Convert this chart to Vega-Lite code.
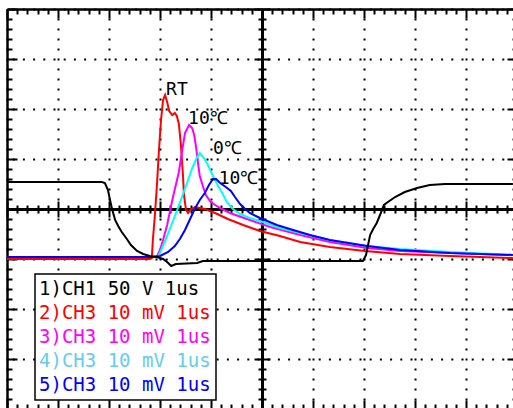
{
  "$schema": "https://vega.github.io/schema/vega-lite/v6.json",
  "width": 506,
  "height": 399,
  "autosize": {"type": "none"},
  "padding": {"left": 7, "top": 9, "right": 0, "bottom": 0},
  "background": "white",
  "config": {"view": {"stroke": null}},
  "datasets": {
    "traces": [
      {"s": "2)CH3 10 mV 1us", "t": -5, "v": -1.0},
      {"s": "2)CH3 10 mV 1us", "t": -2.2, "v": -1.0},
      {"s": "2)CH3 10 mV 1us", "t": -2.16, "v": -0.98},
      {"s": "2)CH3 10 mV 1us", "t": -2.14, "v": -0.62},
      {"s": "2)CH3 10 mV 1us", "t": -2.1, "v": -0.12},
      {"s": "2)CH3 10 mV 1us", "t": -2.06, "v": 0.48},
      {"s": "2)CH3 10 mV 1us", "t": -2.02, "v": 1.18},
      {"s": "2)CH3 10 mV 1us", "t": -1.98, "v": 1.78},
      {"s": "2)CH3 10 mV 1us", "t": -1.94, "v": 2.18},
      {"s": "2)CH3 10 mV 1us", "t": -1.9, "v": 2.28},
      {"s": "2)CH3 10 mV 1us", "t": -1.86, "v": 2.14},
      {"s": "2)CH3 10 mV 1us", "t": -1.82, "v": 1.96},
      {"s": "2)CH3 10 mV 1us", "t": -1.76, "v": 1.88},
      {"s": "2)CH3 10 mV 1us", "t": -1.71, "v": 1.92},
      {"s": "2)CH3 10 mV 1us", "t": -1.67, "v": 1.86},
      {"s": "2)CH3 10 mV 1us", "t": -1.63, "v": 1.7},
      {"s": "2)CH3 10 mV 1us", "t": -1.59, "v": 1.28},
      {"s": "2)CH3 10 mV 1us", "t": -1.55, "v": 0.68},
      {"s": "2)CH3 10 mV 1us", "t": -1.53, "v": 0.28},
      {"s": "2)CH3 10 mV 1us", "t": -1.49, "v": -0.02},
      {"s": "2)CH3 10 mV 1us", "t": -1.45, "v": -0.08},
      {"s": "2)CH3 10 mV 1us", "t": -1.39, "v": 0.0},
      {"s": "2)CH3 10 mV 1us", "t": -1.31, "v": 0.04},
      {"s": "2)CH3 10 mV 1us", "t": -1.12, "v": 0.0},
      {"s": "2)CH3 10 mV 1us", "t": -0.92, "v": -0.08},
      {"s": "2)CH3 10 mV 1us", "t": -0.67, "v": -0.2},
      {"s": "2)CH3 10 mV 1us", "t": -0.37, "v": -0.32},
      {"s": "2)CH3 10 mV 1us", "t": -0.04, "v": -0.44},
      {"s": "2)CH3 10 mV 1us", "t": 0.35, "v": -0.54},
      {"s": "2)CH3 10 mV 1us", "t": 0.75, "v": -0.66},
      {"s": "2)CH3 10 mV 1us", "t": 1.33, "v": -0.76},
      {"s": "2)CH3 10 mV 1us", "t": 2.02, "v": -0.84},
      {"s": "2)CH3 10 mV 1us", "t": 2.71, "v": -0.9},
      {"s": "2)CH3 10 mV 1us", "t": 3.69, "v": -0.94},
      {"s": "2)CH3 10 mV 1us", "t": 4.92, "v": -0.98},

      {"s": "3)CH3 10 mV 1us", "t": -5, "v": -0.96},
      {"s": "3)CH3 10 mV 1us", "t": -2.1, "v": -0.96},
      {"s": "3)CH3 10 mV 1us", "t": -2.06, "v": -0.95},
      {"s": "3)CH3 10 mV 1us", "t": -2.0, "v": -0.82},
      {"s": "3)CH3 10 mV 1us", "t": -1.94, "v": -0.62},
      {"s": "3)CH3 10 mV 1us", "t": -1.86, "v": -0.32},
      {"s": "3)CH3 10 mV 1us", "t": -1.8, "v": -0.02},
      {"s": "3)CH3 10 mV 1us", "t": -1.75, "v": 0.22},
      {"s": "3)CH3 10 mV 1us", "t": -1.69, "v": 0.48},
      {"s": "3)CH3 10 mV 1us", "t": -1.63, "v": 0.74},
      {"s": "3)CH3 10 mV 1us", "t": -1.57, "v": 1.14},
      {"s": "3)CH3 10 mV 1us", "t": -1.51, "v": 1.52},
      {"s": "3)CH3 10 mV 1us", "t": -1.43, "v": 1.68},
      {"s": "3)CH3 10 mV 1us", "t": -1.37, "v": 1.62},
      {"s": "3)CH3 10 mV 1us", "t": -1.33, "v": 1.48},
      {"s": "3)CH3 10 mV 1us", "t": -1.29, "v": 1.22},
      {"s": "3)CH3 10 mV 1us", "t": -1.25, "v": 0.88},
      {"s": "3)CH3 10 mV 1us", "t": -1.22, "v": 0.66},
      {"s": "3)CH3 10 mV 1us", "t": -1.16, "v": 0.46},
      {"s": "3)CH3 10 mV 1us", "t": -1.1, "v": 0.28},
      {"s": "3)CH3 10 mV 1us", "t": -1.02, "v": 0.16},
      {"s": "3)CH3 10 mV 1us", "t": -0.92, "v": 0.08},
      {"s": "3)CH3 10 mV 1us", "t": -0.78, "v": 0.0},
      {"s": "3)CH3 10 mV 1us", "t": -0.63, "v": -0.08},
      {"s": "3)CH3 10 mV 1us", "t": -0.24, "v": -0.22},
      {"s": "3)CH3 10 mV 1us", "t": 0.16, "v": -0.36},
      {"s": "3)CH3 10 mV 1us", "t": 0.75, "v": -0.52},
      {"s": "3)CH3 10 mV 1us", "t": 1.33, "v": -0.66},
      {"s": "3)CH3 10 mV 1us", "t": 2.06, "v": -0.78},
      {"s": "3)CH3 10 mV 1us", "t": 2.71, "v": -0.84},
      {"s": "3)CH3 10 mV 1us", "t": 3.69, "v": -0.88},
      {"s": "3)CH3 10 mV 1us", "t": 4.92, "v": -0.92},

      {"s": "4)CH3 10 mV 1us", "t": -5, "v": -0.96},
      {"s": "4)CH3 10 mV 1us", "t": -2.06, "v": -0.96},
      {"s": "4)CH3 10 mV 1us", "t": -2.02, "v": -0.92},
      {"s": "4)CH3 10 mV 1us", "t": -1.9, "v": -0.64},
      {"s": "4)CH3 10 mV 1us", "t": -1.8, "v": -0.38},
      {"s": "4)CH3 10 mV 1us", "t": -1.67, "v": -0.04},
      {"s": "4)CH3 10 mV 1us", "t": -1.57, "v": 0.24},
      {"s": "4)CH3 10 mV 1us", "t": -1.47, "v": 0.52},
      {"s": "4)CH3 10 mV 1us", "t": -1.41, "v": 0.7},
      {"s": "4)CH3 10 mV 1us", "t": -1.35, "v": 0.86},
      {"s": "4)CH3 10 mV 1us", "t": -1.29, "v": 1.0},
      {"s": "4)CH3 10 mV 1us", "t": -1.22, "v": 1.12},
      {"s": "4)CH3 10 mV 1us", "t": -1.14, "v": 1.02},
      {"s": "4)CH3 10 mV 1us", "t": -1.06, "v": 0.88},
      {"s": "4)CH3 10 mV 1us", "t": -0.96, "v": 0.66},
      {"s": "4)CH3 10 mV 1us", "t": -0.86, "v": 0.46},
      {"s": "4)CH3 10 mV 1us", "t": -0.78, "v": 0.32},
      {"s": "4)CH3 10 mV 1us", "t": -0.69, "v": 0.14},
      {"s": "4)CH3 10 mV 1us", "t": -0.57, "v": 0.0},
      {"s": "4)CH3 10 mV 1us", "t": -0.43, "v": -0.1},
      {"s": "4)CH3 10 mV 1us", "t": -0.24, "v": -0.18},
      {"s": "4)CH3 10 mV 1us", "t": -0.04, "v": -0.24},
      {"s": "4)CH3 10 mV 1us", "t": 0.35, "v": -0.38},
      {"s": "4)CH3 10 mV 1us", "t": 0.75, "v": -0.48},
      {"s": "4)CH3 10 mV 1us", "t": 1.33, "v": -0.62},
      {"s": "4)CH3 10 mV 1us", "t": 2.06, "v": -0.74},
      {"s": "4)CH3 10 mV 1us", "t": 2.71, "v": -0.8},
      {"s": "4)CH3 10 mV 1us", "t": 3.69, "v": -0.86},
      {"s": "4)CH3 10 mV 1us", "t": 4.92, "v": -0.92},

      {"s": "5)CH3 10 mV 1us", "t": -5, "v": -0.96},
      {"s": "5)CH3 10 mV 1us", "t": -2.16, "v": -0.96},
      {"s": "5)CH3 10 mV 1us", "t": -2.0, "v": -0.94},
      {"s": "5)CH3 10 mV 1us", "t": -1.84, "v": -0.86},
      {"s": "5)CH3 10 mV 1us", "t": -1.71, "v": -0.74},
      {"s": "5)CH3 10 mV 1us", "t": -1.61, "v": -0.6},
      {"s": "5)CH3 10 mV 1us", "t": -1.51, "v": -0.42},
      {"s": "5)CH3 10 mV 1us", "t": -1.41, "v": -0.2},
      {"s": "5)CH3 10 mV 1us", "t": -1.31, "v": 0.02},
      {"s": "5)CH3 10 mV 1us", "t": -1.22, "v": 0.18},
      {"s": "5)CH3 10 mV 1us", "t": -1.12, "v": 0.32},
      {"s": "5)CH3 10 mV 1us", "t": -1.04, "v": 0.48},
      {"s": "5)CH3 10 mV 1us", "t": -0.96, "v": 0.6},
      {"s": "5)CH3 10 mV 1us", "t": -0.9, "v": 0.6},
      {"s": "5)CH3 10 mV 1us", "t": -0.82, "v": 0.52},
      {"s": "5)CH3 10 mV 1us", "t": -0.71, "v": 0.44},
      {"s": "5)CH3 10 mV 1us", "t": -0.61, "v": 0.36},
      {"s": "5)CH3 10 mV 1us", "t": -0.53, "v": 0.24},
      {"s": "5)CH3 10 mV 1us", "t": -0.43, "v": 0.1},
      {"s": "5)CH3 10 mV 1us", "t": -0.33, "v": 0.0},
      {"s": "5)CH3 10 mV 1us", "t": -0.24, "v": -0.08},
      {"s": "5)CH3 10 mV 1us", "t": -0.04, "v": -0.18},
      {"s": "5)CH3 10 mV 1us", "t": 0.29, "v": -0.32},
      {"s": "5)CH3 10 mV 1us", "t": 0.61, "v": -0.42},
      {"s": "5)CH3 10 mV 1us", "t": 0.94, "v": -0.52},
      {"s": "5)CH3 10 mV 1us", "t": 1.33, "v": -0.62},
      {"s": "5)CH3 10 mV 1us", "t": 2.06, "v": -0.74},
      {"s": "5)CH3 10 mV 1us", "t": 2.71, "v": -0.82},
      {"s": "5)CH3 10 mV 1us", "t": 3.69, "v": -0.88},
      {"s": "5)CH3 10 mV 1us", "t": 4.92, "v": -0.92},

      {"s": "1)CH1 50 V 1us", "t": -5, "v": 0.54},
      {"s": "1)CH1 50 V 1us", "t": -3.14, "v": 0.54},
      {"s": "1)CH1 50 V 1us", "t": -3.08, "v": 0.52},
      {"s": "1)CH1 50 V 1us", "t": -3.02, "v": 0.38},
      {"s": "1)CH1 50 V 1us", "t": -2.98, "v": 0.18},
      {"s": "1)CH1 50 V 1us", "t": -2.94, "v": 0.0},
      {"s": "1)CH1 50 V 1us", "t": -2.88, "v": -0.22},
      {"s": "1)CH1 50 V 1us", "t": -2.82, "v": -0.34},
      {"s": "1)CH1 50 V 1us", "t": -2.75, "v": -0.46},
      {"s": "1)CH1 50 V 1us", "t": -2.65, "v": -0.6},
      {"s": "1)CH1 50 V 1us", "t": -2.57, "v": -0.72},
      {"s": "1)CH1 50 V 1us", "t": -2.45, "v": -0.84},
      {"s": "1)CH1 50 V 1us", "t": -2.33, "v": -0.9},
      {"s": "1)CH1 50 V 1us", "t": -2.2, "v": -0.94},
      {"s": "1)CH1 50 V 1us", "t": -2.06, "v": -0.96},
      {"s": "1)CH1 50 V 1us", "t": -1.94, "v": -1.0},
      {"s": "1)CH1 50 V 1us", "t": -1.86, "v": -1.06},
      {"s": "1)CH1 50 V 1us", "t": -1.78, "v": -1.14},
      {"s": "1)CH1 50 V 1us", "t": -1.69, "v": -1.1},
      {"s": "1)CH1 50 V 1us", "t": -1.27, "v": -1.08},
      {"s": "1)CH1 50 V 1us", "t": -1.16, "v": -1.04},
      {"s": "1)CH1 50 V 1us", "t": -0.24, "v": -1.04},
      {"s": "1)CH1 50 V 1us", "t": 1.98, "v": -1.04},
      {"s": "1)CH1 50 V 1us", "t": 2.04, "v": -0.92},
      {"s": "1)CH1 50 V 1us", "t": 2.08, "v": -0.72},
      {"s": "1)CH1 50 V 1us", "t": 2.12, "v": -0.52},
      {"s": "1)CH1 50 V 1us", "t": 2.18, "v": -0.4},
      {"s": "1)CH1 50 V 1us", "t": 2.25, "v": -0.28},
      {"s": "1)CH1 50 V 1us", "t": 2.33, "v": -0.08},
      {"s": "1)CH1 50 V 1us", "t": 2.39, "v": 0.08},
      {"s": "1)CH1 50 V 1us", "t": 2.47, "v": 0.14},
      {"s": "1)CH1 50 V 1us", "t": 2.61, "v": 0.24},
      {"s": "1)CH1 50 V 1us", "t": 2.8, "v": 0.34},
      {"s": "1)CH1 50 V 1us", "t": 3.04, "v": 0.42},
      {"s": "1)CH1 50 V 1us", "t": 3.29, "v": 0.48},
      {"s": "1)CH1 50 V 1us", "t": 3.59, "v": 0.5},
      {"s": "1)CH1 50 V 1us", "t": 4.92, "v": 0.5}
    ],
    "notes": [
      {"label": "RT", "t": -1.88, "v": 2.38},
      {"label": "10℃", "t": -1.45, "v": 1.8},
      {"label": "0℃", "t": -0.96, "v": 1.2},
      {"label": "-10℃", "t": -1.06, "v": 0.6}
    ]
  },
  "layer": [
    {
      "data": {"name": "traces"},
      "mark": {"type": "line", "strokeWidth": 2, "interpolate": "linear"},
      "encoding": {
        "x": {
          "field": "t", "type": "quantitative",
          "scale": {"domain": [-5, 4.9216], "nice": false, "zero": false},
          "axis": {
            "orient": "bottom", "offset": -399, "title": null, "labels": false,
            "values": [-5,-4.8,-4.6,-4.4,-4.2,-4,-3.8,-3.6,-3.4,-3.2,-3,-2.8,-2.6,-2.4,-2.2,-2,-1.8,-1.6,-1.4,-1.2,-1,-0.8,-0.6,-0.4,-0.2,0,0.2,0.4,0.6,0.8,1,1.2,1.4,1.6,1.8,2,2.2,2.4,2.6,2.8,3,3.2,3.4,3.6,3.8,4,4.2,4.4,4.6,4.8],
            "domain": true, "domainColor": "black", "domainWidth": 2.5,
            "ticks": true, "tickColor": "black", "tickWidth": 2,
            "tickSize": {"condition": {"test": "abs(datum.value - round(datum.value)) < 0.01", "value": 9}, "value": 5},
            "grid": true, "gridColor": "black", "gridWidth": 2, "gridDash": [2, 8], "gridDashOffset": 1,
            "gridOpacity": {"condition": {"test": "abs(datum.value - round(datum.value)) < 0.01", "value": 1}, "value": 0}
          }
        },
        "y": {
          "field": "v", "type": "quantitative",
          "scale": {"domain": [-3.98, 4], "nice": false, "zero": false},
          "axis": {
            "orient": "right", "offset": -506, "title": null, "labels": false,
            "values": [-3.8,-3.6,-3.4,-3.2,-3,-2.8,-2.6,-2.4,-2.2,-2,-1.8,-1.6,-1.4,-1.2,-1,-0.8,-0.6,-0.4,-0.2,0,0.2,0.4,0.6,0.8,1,1.2,1.4,1.6,1.8,2,2.2,2.4,2.6,2.8,3,3.2,3.4,3.6,3.8,4],
            "domain": true, "domainColor": "black", "domainWidth": 2.5,
            "ticks": true, "tickColor": "black", "tickWidth": 2,
            "tickSize": {"condition": {"test": "abs(datum.value - round(datum.value)) < 0.01", "value": 10}, "value": 5},
            "grid": true, "gridColor": "black", "gridWidth": 2, "gridDash": [2, 8.2], "gridDashOffset": 1,
            "gridOpacity": {"condition": {"test": "abs(datum.value - round(datum.value)) < 0.01", "value": 1}, "value": 0}
          }
        },
        "color": {
          "field": "s", "type": "nominal",
          "scale": {
            "domain": ["1)CH1 50 V 1us", "2)CH3 10 mV 1us", "3)CH3 10 mV 1us", "4)CH3 10 mV 1us", "5)CH3 10 mV 1us"],
            "range": ["#000000", "#ff0000", "#ff00ff", "#00ffff", "#0000ff"]
          },
          "legend": {
            "orient": "none", "legendX": 28, "legendY": 265, "title": null,
            "labelFont": "DejaVu Sans Mono", "labelFontSize": 19, "labelLimit": 0,
            "labelOffset": -20, "symbolSize": 0, "symbolOpacity": 0, "symbolStrokeWidth": 0,
            "padding": 5, "rowPadding": 4,
            "strokeColor": "black", "fillColor": "white",
            "encode": {
              "labels": {"update": {"fill": {"signal": "datum.index === 3 ? '#66ccf0' : scale('color', datum.value)"}}},
              "legend": {"update": {"strokeWidth": {"value": 1.5}}}
            }
          }
        }
      }
    },
    {
      "data": {"name": "traces"},
      "mark": {"type": "line", "strokeOpacity": 0},
      "encoding": {
        "detail": {"field": "s"},
        "x": {
          "field": "t", "type": "quantitative",
          "scale": {"domain": [-5, 4.9216], "nice": false, "zero": false},
          "axis": {
            "orient": "top", "offset": -400, "title": null, "labels": false, "grid": false,
            "values": [-5,-4.8,-4.6,-4.4,-4.2,-4,-3.8,-3.6,-3.4,-3.2,-3,-2.8,-2.6,-2.4,-2.2,-2,-1.8,-1.6,-1.4,-1.2,-1,-0.8,-0.6,-0.4,-0.2,0,0.2,0.4,0.6,0.8,1,1.2,1.4,1.6,1.8,2,2.2,2.4,2.6,2.8,3,3.2,3.4,3.6,3.8,4,4.2,4.4,4.6,4.8],
            "domain": true, "domainColor": "black", "domainWidth": 2.5,
            "ticks": true, "tickColor": "black", "tickWidth": 2,
            "tickSize": {"condition": {"test": "abs(datum.value - round(datum.value)) < 0.01", "value": 9}, "value": 5}
          }
        },
        "y": {
          "field": "v", "type": "quantitative",
          "scale": {"domain": [-3.98, 4], "nice": false, "zero": false},
          "axis": {
            "orient": "left", "offset": -510, "title": null, "labels": false, "grid": false,
            "values": [-3.8,-3.6,-3.4,-3.2,-3,-2.8,-2.6,-2.4,-2.2,-2,-1.8,-1.6,-1.4,-1.2,-1,-0.8,-0.6,-0.4,-0.2,0,0.2,0.4,0.6,0.8,1,1.2,1.4,1.6,1.8,2,2.2,2.4,2.6,2.8,3,3.2,3.4,3.6,3.8,4],
            "domain": true, "domainColor": "black", "domainWidth": 2.5,
            "ticks": true, "tickColor": "black", "tickWidth": 2,
            "tickSize": {"condition": {"test": "abs(datum.value - round(datum.value)) < 0.01", "value": 10}, "value": 5}
          }
        }
      }
    },
    {
      "data": {"name": "traces"},
      "mark": {"type": "line", "strokeOpacity": 0},
      "encoding": {
        "detail": {"field": "s"},
        "x": {
          "field": "t", "type": "quantitative",
          "scale": {"domain": [-5, 4.9216], "nice": false, "zero": false},
          "axis": {
            "orient": "bottom", "offset": -199, "title": null, "labels": false, "grid": false,
            "values": [-5,-4.8,-4.6,-4.4,-4.2,-4,-3.8,-3.6,-3.4,-3.2,-3,-2.8,-2.6,-2.4,-2.2,-2,-1.8,-1.6,-1.4,-1.2,-1,-0.8,-0.6,-0.4,-0.2,0,0.2,0.4,0.6,0.8,1,1.2,1.4,1.6,1.8,2,2.2,2.4,2.6,2.8,3,3.2,3.4,3.6,3.8,4,4.2,4.4,4.6,4.8],
            "domain": true, "domainColor": "black", "domainWidth": 3,
            "ticks": true, "tickColor": "black", "tickWidth": 2,
            "tickSize": {"condition": {"test": "abs(datum.value - round(datum.value)) < 0.01", "value": 8}, "value": 4}
          }
        },
        "y": {
          "field": "v", "type": "quantitative",
          "scale": {"domain": [-3.98, 4], "nice": false, "zero": false},
          "axis": {
            "orient": "right", "offset": -251, "title": null, "labels": false, "grid": false,
            "values": [-3.8,-3.6,-3.4,-3.2,-3,-2.8,-2.6,-2.4,-2.2,-2,-1.8,-1.6,-1.4,-1.2,-1,-0.8,-0.6,-0.4,-0.2,0,0.2,0.4,0.6,0.8,1,1.2,1.4,1.6,1.8,2,2.2,2.4,2.6,2.8,3,3.2,3.4,3.6,3.8,4],
            "domain": true, "domainColor": "black", "domainWidth": 3,
            "ticks": true, "tickColor": "black", "tickWidth": 2,
            "tickSize": {"condition": {"test": "abs(datum.value - round(datum.value)) < 0.01", "value": 8}, "value": 4}
          }
        }
      }
    },
    {
      "data": {"name": "traces"},
      "mark": {"type": "line", "strokeOpacity": 0},
      "encoding": {
        "detail": {"field": "s"},
        "x": {
          "field": "t", "type": "quantitative",
          "scale": {"domain": [-5, 4.9216], "nice": false, "zero": false},
          "axis": {
            "orient": "top", "offset": -200, "title": null, "labels": false, "grid": false,
            "values": [-5,-4.8,-4.6,-4.4,-4.2,-4,-3.8,-3.6,-3.4,-3.2,-3,-2.8,-2.6,-2.4,-2.2,-2,-1.8,-1.6,-1.4,-1.2,-1,-0.8,-0.6,-0.4,-0.2,0,0.2,0.4,0.6,0.8,1,1.2,1.4,1.6,1.8,2,2.2,2.4,2.6,2.8,3,3.2,3.4,3.6,3.8,4,4.2,4.4,4.6,4.8],
            "domain": false,
            "ticks": true, "tickColor": "black", "tickWidth": 2,
            "tickSize": {"condition": {"test": "abs(datum.value - round(datum.value)) < 0.01", "value": 8}, "value": 4}
          }
        },
        "y": {
          "field": "v", "type": "quantitative",
          "scale": {"domain": [-3.98, 4], "nice": false, "zero": false},
          "axis": {
            "orient": "left", "offset": -255, "title": null, "labels": false, "grid": false,
            "values": [-3.8,-3.6,-3.4,-3.2,-3,-2.8,-2.6,-2.4,-2.2,-2,-1.8,-1.6,-1.4,-1.2,-1,-0.8,-0.6,-0.4,-0.2,0,0.2,0.4,0.6,0.8,1,1.2,1.4,1.6,1.8,2,2.2,2.4,2.6,2.8,3,3.2,3.4,3.6,3.8,4],
            "domain": false,
            "ticks": true, "tickColor": "black", "tickWidth": 2,
            "tickSize": {"condition": {"test": "abs(datum.value - round(datum.value)) < 0.01", "value": 8}, "value": 4}
          }
        }
      }
    },
    {
      "data": {"name": "notes"},
      "mark": {"type": "text", "align": "left", "baseline": "middle", "font": "DejaVu Sans Mono", "fontSize": 18, "color": "black"},
      "encoding": {
        "x": {"field": "t", "type": "quantitative", "scale": {"domain": [-5, 4.9216], "nice": false, "zero": false}, "axis": null},
        "y": {"field": "v", "type": "quantitative", "scale": {"domain": [-3.98, 4], "nice": false, "zero": false}, "axis": null},
        "text": {"field": "label"}
      }
    }
  ],
  "resolve": {"axis": {"x": "independent", "y": "independent"}}
}
